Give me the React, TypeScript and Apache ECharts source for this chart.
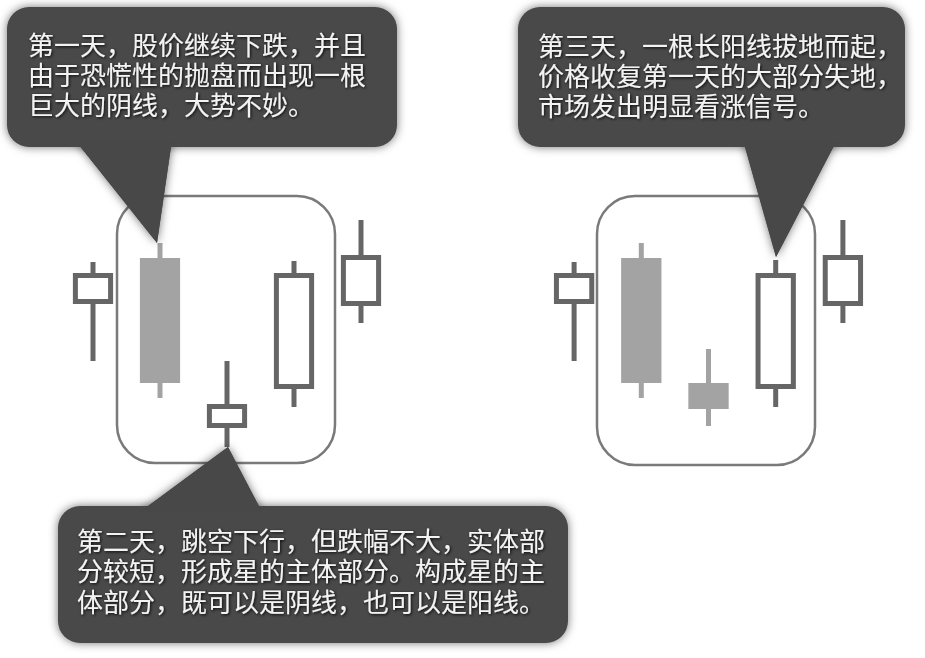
import React, { useEffect, useRef } from "react";
import * as echarts from "echarts";

// Categories (days) for each panel
const leftDays = ["前一日", "第一天", "第二天", "第三天", "后一日"];
const rightDays = ["前一日", "第一天", "第二天", "第三天", "后一日"];

// Left panel: star body is a yang (hollow) candle
const leftOpen = [78, 101, 16, 35.5, 77];
const leftClose = [93.5, 38.5, 28, 93.5, 102.5];
const leftLow = [49.5, 31, 6.5, 26.5, 68.5];
const leftHigh = [99, 108.5, 49.5, 99.5, 120];

// Right panel: star body is a yin (filled) candle
const rightOpen = [78, 101, 38.5, 35.5, 77];
const rightClose = [93.5, 38.5, 25.5, 93.5, 102.5];
const rightLow = [49.5, 31, 17, 26.5, 68.5];
const rightHigh = [99, 108.5, 55.5, 100, 120];

const note1 = ["第一天，股价继续下跌，并且", "由于恐慌性的抛盘而出现一根", "巨大的阴线，大势不妙。"];
const note2 = [
  "第二天，跳空下行，但跌幅不大，实体部",
  "分较短，形成星的主体部分。构成星的主",
  "体部分，既可以是阴线，也可以是阳线。",
];
const note3 = ["第三天，一根长阳线拔地而起，", "价格收复第一天的大部分失地，", "市场发出明显看涨信号。"];

const HOLLOW = "#666666";
const FILLED = "#a3a3a3";
const BUBBLE = "#484848";
const FONT = '"Liberation Serif", "Noto Sans CJK SC", serif';
const FONT_SIZE = 26;

function buildData(open: number[], close: number[], low: number[], high: number[]) {
  return open.map((o, i) => [i, o, close[i], low[i], high[i]]);
}

function renderCandle(params: any, api: any) {
  const cat = api.value(0);
  const open = api.value(1);
  const close = api.value(2);
  const low = api.value(3);
  const high = api.value(4);
  const yang = close >= open;
  const top = api.coord([cat, Math.max(open, close)]);
  const bot = api.coord([cat, Math.min(open, close)]);
  const pH = api.coord([cat, high]);
  const pL = api.coord([cat, low]);
  const w = api.size([1, 0])[0] * 0.6;
  const x = top[0];
  const color = yang ? HOLLOW : FILLED;
  const lw = 5;
  const children: any[] = [
    {
      type: "rect",
      shape: { x: x - lw / 2, y: pH[1], width: lw, height: pL[1] - pH[1] },
      style: { fill: color },
    },
  ];
  if (yang) {
    children.push({
      type: "rect",
      shape: {
        x: x - w / 2 + lw / 2,
        y: top[1] + lw / 2,
        width: w - lw,
        height: bot[1] - top[1] - lw,
      },
      style: { fill: "#ffffff", stroke: color, lineWidth: lw },
    });
  } else {
    children.push({
      type: "rect",
      shape: { x: x - w / 2, y: top[1], width: w, height: bot[1] - top[1] },
      style: { fill: color },
    });
  }
  return { type: "group", children };
}

function bubble(
  rect: { x: number; y: number; width: number; height: number },
  pointer: number[][],
  lines: string[],
  tx: number,
  firstCenter: number,
  lh: number
) {
  const shadow = { shadowBlur: 10, shadowColor: "rgba(0,0,0,0.55)" };
  const texts = lines.map((t, i) => ({
    type: "text",
    x: tx,
    y: firstCenter + i * lh,
    z: 13,
    style: {
      text: t,
      fill: "#f3f3f3",
      fontSize: FONT_SIZE,
      fontFamily: FONT,
      verticalAlign: "middle",
      align: "left",
      textShadowColor: "rgba(0,0,0,0.9)",
      textShadowBlur: 3,
      textShadowOffsetX: 1,
      textShadowOffsetY: 1,
    },
  }));
  return [
    { type: "polygon", shape: { points: pointer }, style: { fill: BUBBLE, ...shadow }, z: 10 },
    { type: "rect", shape: { ...rect, r: 22 }, style: { fill: BUBBLE, ...shadow }, z: 11 },
    { type: "polygon", shape: { points: pointer }, style: { fill: BUBBLE }, z: 12 },
    ...texts,
  ];
}

export default function App() {
  const ref = useRef<HTMLDivElement>(null);
  useEffect(() => {
    if (!ref.current) return;
    const chart = echarts.init(ref.current, undefined, { renderer: "svg" });
    const yAxisBase = { type: "value", min: 0, max: 140, show: false };
    const xAxisBase = { type: "category", boundaryGap: true, show: false };
    chart.setOption({
      animation: false,
      backgroundColor: "#ffffff",
      grid: [
        { left: 59.5, top: 180, width: 335, height: 280 },
        { left: 540.5, top: 180, width: 336, height: 280 },
      ],
      xAxis: [
        { ...xAxisBase, gridIndex: 0, data: leftDays },
        { ...xAxisBase, gridIndex: 1, data: rightDays },
      ],
      yAxis: [
        { ...yAxisBase, gridIndex: 0 },
        { ...yAxisBase, gridIndex: 1 },
      ],
      series: [
        {
          type: "custom",
          name: "左",
          xAxisIndex: 0,
          yAxisIndex: 0,
          renderItem: renderCandle,
          data: buildData(leftOpen, leftClose, leftLow, leftHigh),
          z: 2,
        },
        {
          type: "custom",
          name: "右",
          xAxisIndex: 1,
          yAxisIndex: 1,
          renderItem: renderCandle,
          data: buildData(rightOpen, rightClose, rightLow, rightHigh),
          z: 2,
        },
      ],
      graphic: [
        {
          type: "rect",
          shape: { x: 117, y: 196, width: 218, height: 267, r: 38 },
          style: { fill: "none", stroke: "#7a7a7a", lineWidth: 2.5 },
          z: 1,
        },
        {
          type: "rect",
          shape: { x: 597, y: 196, width: 218, height: 269, r: 38 },
          style: { fill: "none", stroke: "#7a7a7a", lineWidth: 2.5 },
          z: 1,
        },
        ...bubble(
          { x: 7, y: 7, width: 390, height: 140 },
          [[75, 140], [172, 140], [157, 243]],
          note1,
          28,
          46,
          30
        ),
        ...bubble(
          { x: 58, y: 506, width: 510, height: 137 },
          [[140, 512], [262, 512], [228, 447]],
          note2,
          77,
          542,
          30.5
        ),
        ...bubble(
          { x: 518, y: 7, width: 387, height: 140 },
          [[743, 140], [837, 140], [776, 257]],
          note3,
          538,
          47,
          30
        ),
      ],
    });
    return () => chart.dispose();
  }, []);
  return (
    <div
      ref={ref}
      style={{ position: "absolute", left: 0, top: 0, width: 925, height: 658, background: "#fff" }}
    />
  );
}
